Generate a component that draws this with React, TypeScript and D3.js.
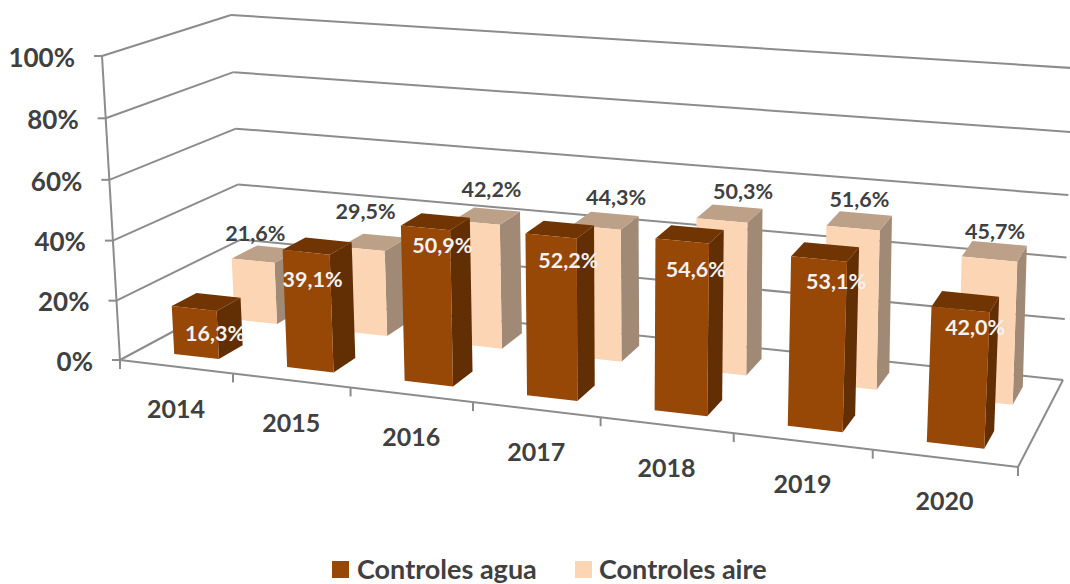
import React from "react";
import * as d3 from "d3";

const categories = ["2014", "2015", "2016", "2017", "2018", "2019", "2020"];
const aguaValues = [16.3, 39.1, 50.9, 52.2, 54.6, 53.1, 42.0];
const aireValues = [21.6, 29.5, 42.2, 44.3, 50.3, 51.6, 45.7];
const valueTicks = [0, 20, 40, 60, 80, 100];
const legendNames = ["Controles agua", "Controles aire"];

const W = 1070, H = 584;
const GREY = "#8c8c8c", INK = "#404040", FONT = "Lato, Carlito, sans-serif";
const AGUA = { front: "#974706", top: "#713504", side: "#622e04" };
const AIRE = { front: "#fcd5b5", top: "#bda088", side: "#a08a76" };

// chart box corners in the picture: [x at 0%, y at 0%, x at 100%, y at 100%]
const corners = {
  frontLeft: [120, 360, 102, 56],
  frontRight: [1018, 467, 1034, 131],
  backLeft: [243, 294, 231, 15],
  backRight: [1063, 380, 1072, 68],
};
const perspective = -0.1364;
const heightPerspective = -0.03;
const catScale = d3.scaleLinear().domain([0, categories.length]).range([0, 1]);
const valScale = d3.scaleLinear().domain([0, 100]).range([0, 1]);
const lerp = (a: number, b: number, k: number) => a + (b - a) * k;
const warp = (s: number, k: number) => (s * (1 + k)) / (1 + k * s);

function project(cat: number, val: number, depth: number): [number, number] {
  const u = warp(catScale(cat), perspective);
  const h = warp(valScale(val), heightPerspective);
  const at = (c: number[]) => [lerp(c[0], c[2], h), lerp(c[1], c[3], h)];
  const fl = at(corners.frontLeft), fr = at(corners.frontRight);
  const bl = at(corners.backLeft), br = at(corners.backRight);
  const pick = (i: number) =>
    lerp(lerp(fl[i], fr[i], u), lerp(bl[i], br[i], u), depth);
  return [pick(0), pick(1)];
}

const path = d3.line();
const poly = (pts: [number, number][]) => path(pts) + "Z";

const BAR_HALF = 0.2;
const aguaDepth: [number, number] = [0.155, 0.36];
const aireDepth: [number, number] = [0.67, 0.88];
const aguaCentre = d3.scaleLinear().domain([0, 6]).range([0.52, 0.52]);
const aireCentre = d3.scaleLinear().domain([0, 6]).range([0.505, 0.545]);

// label placement relative to the top of each bar: [dx, dy]
const aguaLabelNudge = [[12, 2], [-3, 4], [7, -5], [7, 1], [3, 5], [6, -1], [3, -5]];
const aireLabelNudge = [[-28, 3], [-25, -7], [-11, -2], [-4, 1], [0, 3], [-12, 3], [-10, 5]];

function Bar({ i, v, depth, c, centre }: any) {
  const [z0, z1] = depth;
  const x0 = i + centre(i) - BAR_HALF, x1 = i + centre(i) + BAR_HALF;
  return (
    <g>
      <path d={poly([project(x1, 0, z0), project(x1, 0, z1), project(x1, v, z1), project(x1, v, z0)])} fill={c.side} />
      <path d={poly([project(x0, v, z0), project(x1, v, z0), project(x1, v, z1), project(x0, v, z1)])} fill={c.top} />
      <path d={poly([project(x0, 0, z0), project(x1, 0, z0), project(x1, v, z0), project(x0, v, z0)])} fill={c.front} />
    </g>
  );
}

const fmt = (v: number) => v.toFixed(1).replace(".", ",") + "%";

export default function App() {
  const n = categories.length;
  const seg = (a: [number, number], b: [number, number], key: string) => (
    <line key={key} x1={a[0]} y1={a[1]} x2={b[0]} y2={b[1]} stroke={GREY} strokeWidth={2} />
  );
  return (
    <svg width={W} height={H} viewBox={`0 0 ${W} ${H}`} style={{ position: "absolute", left: 0, top: 0, display: "block", background: "#fff" }}>
      {valueTicks.map((t) => {
        const fl = project(0, t, 0), bl = project(0, t, 1), br = project(n, t, 1);
        return (
          <g key={t}>
            {seg(fl, bl, `s${t}`)}
            {seg(bl, br, `b${t}`)}
            {seg([fl[0] - 8, fl[1]], fl, `t${t}`)}
            <text x={fl[0] - 27} y={fl[1] + 4} dominantBaseline="middle" textAnchor="end" fontFamily={FONT} fontWeight={700} fontSize={26} fill={INK}>{t}%</text>
          </g>
        );
      })}
      {seg(project(0, 0, 0), project(0, 100, 0), "axis")}
      {seg(project(0, 0, 0), project(n, 0, 0), "front")}
      {seg(project(n, 0, 0), project(n, 0, 1), "right")}
      {d3.range(n + 1).map((i) => {
        const p = project(i, 0, 0);
        return seg(p, [p[0], p[1] + 9], `c${i}`);
      })}
      {categories.map((c, i) => {
        const p = project(i + 0.5, 0, 0);
        return <text key={c} x={p[0]} y={p[1] + 45} dominantBaseline="middle" textAnchor="middle" fontFamily={FONT} fontWeight={700} fontSize={25} fill={INK}>{c}</text>;
      })}
      {aireValues.map((v, i) => <Bar key={i} i={i} v={v} depth={aireDepth} c={AIRE} centre={aireCentre} />)}
      {aguaValues.map((v, i) => <Bar key={i} i={i} v={v} depth={aguaDepth} c={AGUA} centre={aguaCentre} />)}
      {aireValues.map((v, i) => {
        const p = project(i + 0.5 + 0.1, v, 0.84);
        return <text key={i} x={p[0] + aireLabelNudge[i][0]} y={p[1] - 19 + aireLabelNudge[i][1]} dominantBaseline="middle" textAnchor="middle" fontFamily={FONT} fontWeight={700} fontSize={21.5} fill={INK}>{fmt(v)}</text>;
      })}
      {aguaValues.map((v, i) => {
        const p = project(i + 0.5 + 0.1, v, aguaDepth[0]);
        return <text key={i} x={p[0] + aguaLabelNudge[i][0]} y={p[1] + 24 + aguaLabelNudge[i][1]} dominantBaseline="middle" textAnchor="middle" fontFamily={FONT} fontWeight={700} fontSize={21.5} fill="#f2f2f2">{fmt(v)}</text>;
      })}
      <rect x={332} y={561} width={17} height={17} fill={AGUA.front} />
      <text x={357} y={572} dominantBaseline="middle" fontFamily={FONT} fontWeight={700} fontSize={27} fill={INK}>{legendNames[0]}</text>
      <rect x={575} y={561} width={17} height={17} fill={AIRE.front} />
      <text x={599} y={572} dominantBaseline="middle" fontFamily={FONT} fontWeight={700} fontSize={27} fill={INK}>{legendNames[1]}</text>
    </svg>
  );
}
